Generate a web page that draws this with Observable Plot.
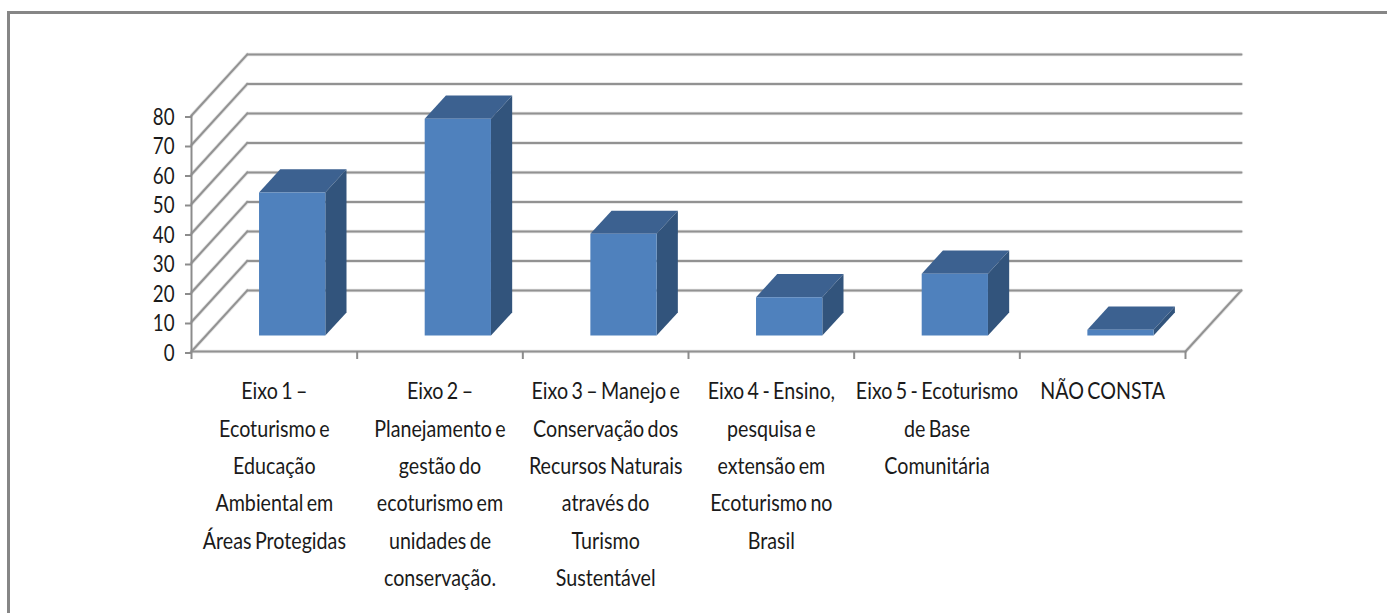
<!DOCTYPE html>
<html><head><meta charset="utf-8">
<script src="https://cdn.jsdelivr.net/npm/d3@7"></script>
<script src="https://cdn.jsdelivr.net/npm/@observablehq/plot@0.6"></script>
<style>
html,body{margin:0;padding:0;background:#fff;overflow:hidden}
#frame{position:absolute;left:7px;top:11px;right:0;bottom:0;border-top:3px solid #868686;border-left:3px solid #868686}
#chart{position:absolute;left:0;top:0}
#chart text{word-spacing:-2px}
</style></head><body>
<div id="frame"></div><div id="chart"></div>
<script>
const categories = [
  "Eixo 1 –\nEcoturismo e\nEducação\nAmbiental em\nÁreas Protegidas",
  "Eixo 2 –\nPlanejamento e\ngestão do\necoturismo em\nunidades de\nconservação.",
  "Eixo 3 – Manejo e\nConservação dos\nRecursos Naturais\natravés do\nTurismo\nSustentável",
  "Eixo 4 - Ensino,\npesquisa e\nextensão em\nEcoturismo no\nBrasil",
  "Eixo 5 - Ecoturismo\nde Base\nComunitária",
  "NÃO CONSTA"
];
const values = [48.5, 73.5, 34.5, 13, 21, 2];
const yTicks = [0, 10, 20, 30, 40, 50, 60, 70, 80];

// oblique projection expressed in data units
const depthX = 0.337, depthY = 20.7;
const barStart = 0.32, barWidth = 0.4, barNear = 0.26, barFar = 0.64;
const P = (c, v, d) => ({x: c + depthX * d, y: v + depthY * d});
const N = categories.length;

const grid = [];
yTicks.forEach(v => {
  grid.push({...P(0, v, 0), k: "s" + v}, {...P(0, v, 1), k: "s" + v});
  grid.push({...P(0, v, 1), k: "b" + v}, {...P(N, v, 1), k: "b" + v});
});
grid.push({...P(N, 0, 0), k: "f"}, {...P(N, 0, 1), k: "f"});
grid.push({...P(0, 0, 0), k: "g"}, {...P(N, 0, 0), k: "g"});

const face = (k, pts) => pts.map(p => ({...p, k}));
const fronts = [], tops = [], sides = [];
values.forEach((v, i) => {
  const a = i + barStart, b = a + barWidth;
  fronts.push(...face("f" + i, [P(a, 0, barNear), P(b, 0, barNear), P(b, v, barNear), P(a, v, barNear)]));
  tops.push(...face("t" + i, [P(a, v, barNear), P(b, v, barNear), P(b, v, barFar), P(a, v, barFar)]));
  sides.push(...face("s" + i, [P(b, 0, barNear), P(b, 0, barFar), P(b, v, barFar), P(b, v, barNear)]));
});
const faceOpts = fill => ({x: "x", y: "y", z: "k", fill, stroke: "none", curve: "linear-closed"});

const chart = Plot.plot({
  width: 1387, height: 613,
  marginLeft: 191, marginRight: 202, marginTop: 115, marginBottom: 262,
  style: {background: "transparent", fontFamily: "Lato, sans-serif", color: "#1a1a1a"},
  x: {domain: [0, N], label: null},
  y: {domain: [0, 80], label: null},
  marks: [
    Plot.line(grid, {x: "x", y: "y", z: "k", stroke: "#e2e2e2", strokeWidth: 3.6}),
    Plot.line(grid, {x: "x", y: "y", z: "k", stroke: "#929292", strokeWidth: 2}),
    Plot.ruleX([0], {y1: 0, y2: 80, stroke: "#8c8c8c", strokeWidth: 2}),
    Plot.axisX(d3.range(N + 1), {anchor: "bottom", tickSize: 8, tickFormat: () => "", label: null, stroke: "#8c8c8c", strokeWidth: 2, strokeOpacity: 1}),
    Plot.axisX(d3.range(N).map(i => i + 0.5), {
      anchor: "bottom", tickSize: 0, tickPadding: 21, lineHeight: 1.56,
      tickFormat: d => categories[Math.floor(d)], fontSize: 24, lineAnchor: "top",
      textOverflow: null, label: null, fill: "#1a1a1a"
    }),
    Plot.axisY(yTicks, {anchor: "left", tickSize: 6, tickPadding: 11, fontSize: 24, label: null, stroke: "#8c8c8c", strokeWidth: 2, strokeOpacity: 1, fill: "#1a1a1a", dy: 1.5}),
    Plot.line(tops, faceOpts("#3c6190")),
    Plot.line(sides, faceOpts("#32547c")),
    Plot.line(fronts, faceOpts("#4f81bd"))
  ]
});
// the reference type is a condensed face: narrow each label about its own anchor
chart.querySelectorAll("text").forEach(t => {
  const isCat = t.querySelector("tspan") != null || t.textContent.length > 2;
  t.setAttribute("transform", (t.getAttribute("transform") || "") + ` scale(${isCat ? 0.82 : 0.78},1)`);
});
document.getElementById("chart").appendChild(chart);
</script>
</body></html>
